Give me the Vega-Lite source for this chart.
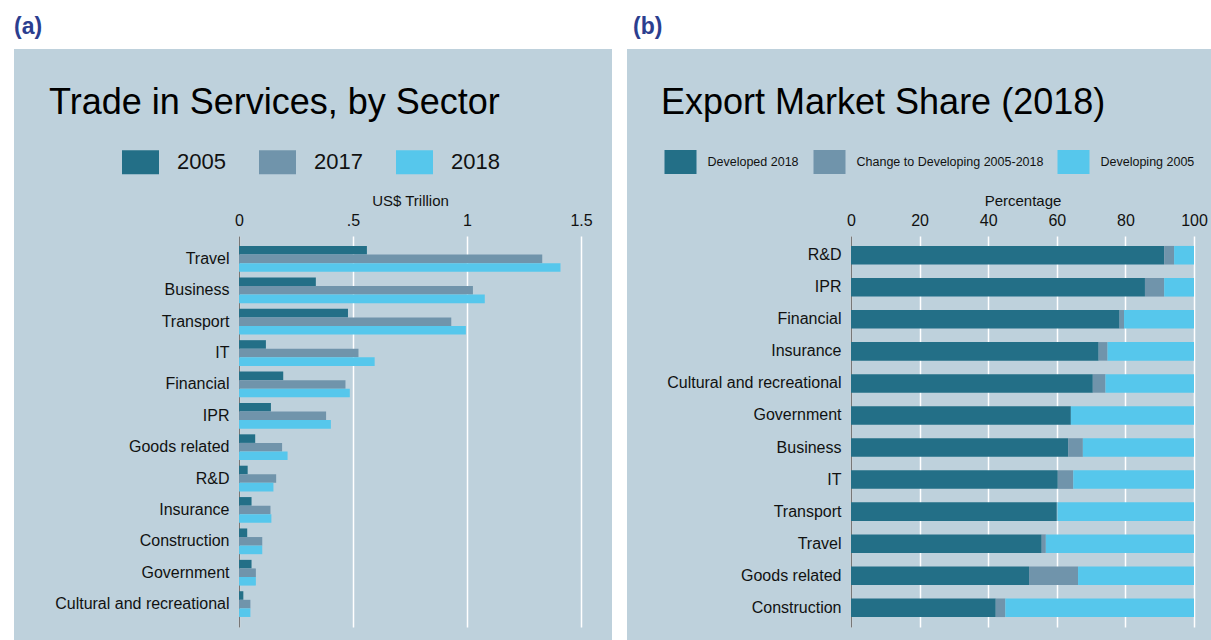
{
  "$schema": "https://vega.github.io/schema/vega-lite/v6.json",
  "padding": {"left": 14, "top": 16, "right": 0, "bottom": 0},
  "background": "white",
  "spacing": 15,
  "config": {
    "font": "Liberation Sans",
    "view": {"fill": "#BED1DC", "stroke": null},
    "axis": {"labelColor": "#111111", "titleColor": "#111111"},
    "legend": {"labelColor": "#111111"}
  },
  "resolve": {"scale": {"color": "independent"}, "legend": {"color": "independent"}},
  "hconcat": [
    {
      "title": {"text": "(a)", "anchor": "start", "fontSize": 23, "fontWeight": "bold", "color": "#2B3E8F", "offset": 10},
      "resolve": {"scale": {"color": "independent"}, "legend": {"color": "independent"}},
      "vconcat": [
        {
          "width": 598,
          "height": 592,
          "title": {"text": "Trade in Services, by Sector", "anchor": "start", "dx": 35, "offset": -73, "fontSize": 36, "fontWeight": "normal", "color": "#000000"},
          "data": {"values": [
            {"sector": "Travel", "year": "2005", "value": 0.561},
            {"sector": "Travel", "year": "2017", "value": 1.330},
            {"sector": "Travel", "year": "2018", "value": 1.410},
            {"sector": "Business", "year": "2005", "value": 0.337},
            {"sector": "Business", "year": "2017", "value": 1.026},
            {"sector": "Business", "year": "2018", "value": 1.078},
            {"sector": "Transport", "year": "2005", "value": 0.478},
            {"sector": "Transport", "year": "2017", "value": 0.931},
            {"sector": "Transport", "year": "2018", "value": 0.995},
            {"sector": "IT", "year": "2005", "value": 0.118},
            {"sector": "IT", "year": "2017", "value": 0.524},
            {"sector": "IT", "year": "2018", "value": 0.595},
            {"sector": "Financial", "year": "2005", "value": 0.194},
            {"sector": "Financial", "year": "2017", "value": 0.467},
            {"sector": "Financial", "year": "2018", "value": 0.486},
            {"sector": "IPR", "year": "2005", "value": 0.140},
            {"sector": "IPR", "year": "2017", "value": 0.382},
            {"sector": "IPR", "year": "2018", "value": 0.403},
            {"sector": "Goods related", "year": "2005", "value": 0.071},
            {"sector": "Goods related", "year": "2017", "value": 0.189},
            {"sector": "Goods related", "year": "2018", "value": 0.213},
            {"sector": "R&D", "year": "2005", "value": 0.038},
            {"sector": "R&D", "year": "2017", "value": 0.163},
            {"sector": "R&D", "year": "2018", "value": 0.151},
            {"sector": "Insurance", "year": "2005", "value": 0.055},
            {"sector": "Insurance", "year": "2017", "value": 0.138},
            {"sector": "Insurance", "year": "2018", "value": 0.142},
            {"sector": "Construction", "year": "2005", "value": 0.036},
            {"sector": "Construction", "year": "2017", "value": 0.102},
            {"sector": "Construction", "year": "2018", "value": 0.102},
            {"sector": "Government", "year": "2005", "value": 0.055},
            {"sector": "Government", "year": "2017", "value": 0.074},
            {"sector": "Government", "year": "2018", "value": 0.074},
            {"sector": "Cultural and recreational", "year": "2005", "value": 0.019},
            {"sector": "Cultural and recreational", "year": "2017", "value": 0.050},
            {"sector": "Cultural and recreational", "year": "2018", "value": 0.050}
          ]},
          "mark": {"type": "bar"},
          "encoding": {
            "y": {
              "field": "sector", "type": "nominal",
              "sort": ["Travel", "Business", "Transport", "IT", "Financial", "IPR", "Goods related", "R&D", "Insurance", "Construction", "Government", "Cultural and recreational"],
              "scale": {"range": [187, 578], "paddingInner": 0.18, "paddingOuter": 0.32},
              "axis": {"title": null, "orient": "left", "offset": -225, "labelPadding": 10, "labelFontSize": 16, "ticks": false, "domainColor": "#777777", "domainWidth": 1.2, "labelLimit": 300, "grid": false}
            },
            "yOffset": {"field": "year", "type": "nominal", "scale": {"paddingInner": 0, "paddingOuter": 0}},
            "x": {
              "field": "value", "type": "quantitative",
              "scale": {"domain": [0, 1.5], "range": [225, 567], "nice": false},
              "axis": {"orient": "top", "offset": -187, "title": "US$ Trillion", "titleFontSize": 15, "titleFontWeight": "normal", "titlePadding": 4, "labelFontSize": 16, "labelPadding": 8, "values": [0, 0.5, 1, 1.5], "labelExpr": "datum.value == 0 ? '0' : datum.value == 0.5 ? '.5' : datum.value == 1 ? '1' : '1.5'", "ticks": false, "domain": false, "grid": true, "gridColor": "#FFFFFF", "gridWidth": 1.5, "labelFlush": false}
            },
            "color": {
              "field": "year", "type": "nominal",
              "scale": {"domain": ["2005", "2017", "2018"], "range": ["#236F87", "#7094AB", "#56C7EC"]},
              "legend": {"orient": "none", "legendX": 108, "legendY": 94.5, "direction": "horizontal", "title": null, "symbolType": "M-1,-0.65H1V0.65H-1Z", "symbolSize": 1369, "symbolStrokeWidth": 0, "symbolOpacity": 1, "labelFontSize": 22, "labelOffset": 18, "columnPadding": 33, "padding": 0}
            }
          }
        }
      ]
    },
    {
      "title": {"text": "(b)", "anchor": "start", "dx": 6, "fontSize": 23, "fontWeight": "bold", "color": "#2B3E8F", "offset": 10},
      "resolve": {"scale": {"color": "independent"}, "legend": {"color": "independent"}},
      "vconcat": [
        {
          "width": 584,
          "height": 592,
          "title": {"text": "Export Market Share (2018)", "anchor": "start", "dx": 34, "offset": -73, "fontSize": 36, "fontWeight": "normal", "color": "#000000"},
          "data": {"values": [
            {"sector": "R&D", "part": "Developed 2018", "seg": 1, "share": 91.3},
            {"sector": "R&D", "part": "Change to Developing 2005-2018", "seg": 2, "share": 2.9},
            {"sector": "R&D", "part": "Developing 2005", "seg": 3, "share": 5.8},
            {"sector": "IPR", "part": "Developed 2018", "seg": 1, "share": 85.7},
            {"sector": "IPR", "part": "Change to Developing 2005-2018", "seg": 2, "share": 5.6},
            {"sector": "IPR", "part": "Developing 2005", "seg": 3, "share": 8.7},
            {"sector": "Financial", "part": "Developed 2018", "seg": 1, "share": 78.3},
            {"sector": "Financial", "part": "Change to Developing 2005-2018", "seg": 2, "share": 1.3},
            {"sector": "Financial", "part": "Developing 2005", "seg": 3, "share": 20.4},
            {"sector": "Insurance", "part": "Developed 2018", "seg": 1, "share": 72.2},
            {"sector": "Insurance", "part": "Change to Developing 2005-2018", "seg": 2, "share": 2.6},
            {"sector": "Insurance", "part": "Developing 2005", "seg": 3, "share": 25.2},
            {"sector": "Cultural and recreational", "part": "Developed 2018", "seg": 1, "share": 70.5},
            {"sector": "Cultural and recreational", "part": "Change to Developing 2005-2018", "seg": 2, "share": 3.7},
            {"sector": "Cultural and recreational", "part": "Developing 2005", "seg": 3, "share": 25.8},
            {"sector": "Government", "part": "Developed 2018", "seg": 1, "share": 64.1},
            {"sector": "Government", "part": "Change to Developing 2005-2018", "seg": 2, "share": 0.0},
            {"sector": "Government", "part": "Developing 2005", "seg": 3, "share": 35.9},
            {"sector": "Business", "part": "Developed 2018", "seg": 1, "share": 63.3},
            {"sector": "Business", "part": "Change to Developing 2005-2018", "seg": 2, "share": 4.3},
            {"sector": "Business", "part": "Developing 2005", "seg": 3, "share": 32.4},
            {"sector": "IT", "part": "Developed 2018", "seg": 1, "share": 60.3},
            {"sector": "IT", "part": "Change to Developing 2005-2018", "seg": 2, "share": 4.5},
            {"sector": "IT", "part": "Developing 2005", "seg": 3, "share": 35.2},
            {"sector": "Transport", "part": "Developed 2018", "seg": 1, "share": 60.0},
            {"sector": "Transport", "part": "Change to Developing 2005-2018", "seg": 2, "share": 0.2},
            {"sector": "Transport", "part": "Developing 2005", "seg": 3, "share": 39.8},
            {"sector": "Travel", "part": "Developed 2018", "seg": 1, "share": 55.6},
            {"sector": "Travel", "part": "Change to Developing 2005-2018", "seg": 2, "share": 1.2},
            {"sector": "Travel", "part": "Developing 2005", "seg": 3, "share": 43.2},
            {"sector": "Goods related", "part": "Developed 2018", "seg": 1, "share": 51.9},
            {"sector": "Goods related", "part": "Change to Developing 2005-2018", "seg": 2, "share": 14.3},
            {"sector": "Goods related", "part": "Developing 2005", "seg": 3, "share": 33.8},
            {"sector": "Construction", "part": "Developed 2018", "seg": 1, "share": 42.2},
            {"sector": "Construction", "part": "Change to Developing 2005-2018", "seg": 2, "share": 2.8},
            {"sector": "Construction", "part": "Developing 2005", "seg": 3, "share": 55.0}
          ]},
          "mark": {"type": "bar"},
          "encoding": {
            "y": {
              "field": "sector", "type": "nominal",
              "sort": ["R&D", "IPR", "Financial", "Insurance", "Cultural and recreational", "Government", "Business", "IT", "Transport", "Travel", "Goods related", "Construction"],
              "scale": {"range": [187, 578], "paddingInner": 0.42, "paddingOuter": 0.31},
              "axis": {"title": null, "orient": "left", "offset": -224, "labelPadding": 10, "labelFontSize": 16, "ticks": false, "domainColor": "#777777", "domainWidth": 1.2, "labelLimit": 300, "grid": false}
            },
            "x": {
              "field": "share", "type": "quantitative", "stack": "zero",
              "scale": {"domain": [0, 100], "range": [224, 567], "nice": false},
              "axis": {"orient": "top", "offset": -187, "title": "Percentage", "titleFontSize": 15, "titleFontWeight": "normal", "titlePadding": 4, "labelFontSize": 16, "labelPadding": 8, "values": [0, 20, 40, 60, 80, 100], "ticks": false, "domain": false, "grid": true, "gridColor": "#FFFFFF", "gridWidth": 1.5, "labelFlush": false}
            },
            "order": {"field": "seg", "type": "quantitative", "sort": "ascending"},
            "color": {
              "field": "part", "type": "nominal",
              "scale": {"domain": ["Developed 2018", "Change to Developing 2005-2018", "Developing 2005"], "range": ["#236F87", "#7094AB", "#56C7EC"]},
              "legend": {"orient": "none", "legendX": 37.5, "legendY": 97, "direction": "horizontal", "title": null, "symbolType": "M-1,-0.75H1V0.75H-1Z", "symbolSize": 1024, "symbolStrokeWidth": 0, "symbolOpacity": 1, "labelFontSize": 12.5, "labelOffset": 11, "labelLimit": 400, "columnPadding": 14, "padding": 0}
            }
          }
        }
      ]
    }
  ]
}
